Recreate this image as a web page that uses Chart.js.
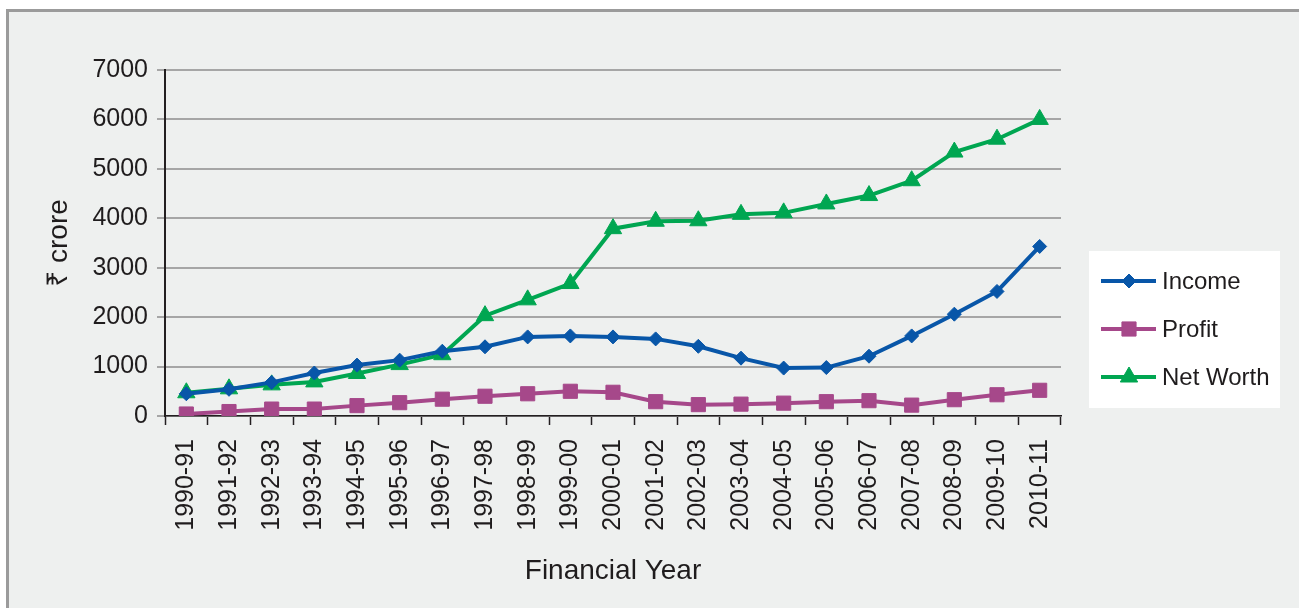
<!DOCTYPE html>
<html>
<head>
<meta charset="utf-8">
<script src="https://cdn.jsdelivr.net/npm/chart.js@4.4.1/dist/chart.umd.min.js"></script>
<style>
    html, body { margin: 0; padding: 0; background: #ffffff; }
    #frame {
        position: absolute; left: 6px; top: 9px; width: 1400px; height: 700px;
        background: #eef0ef; border-top: 3px solid #9b9b9b; border-left: 3px solid #9b9b9b;
    }
    #wrap { position: absolute; left: 0; top: 0; width: 1299px; height: 608px; }
</style>
</head>
<body>
<div id="frame"></div>
<div id="wrap"><canvas id="finChart" width="1299" height="608"></canvas></div>
<script>
// Financial performance, 1990-91 to 2010-11 (values in ₹ crore)
const years = ['1990-91', '1991-92', '1992-93', '1993-94', '1994-95', '1995-96', '1996-97',
    '1997-98', '1998-99', '1999-00', '2000-01', '2001-02', '2002-03', '2003-04', '2004-05',
    '2005-06', '2006-07', '2007-08', '2008-09', '2009-10', '2010-11'];
const income = [450, 540, 680, 870, 1030, 1130, 1310, 1400, 1600, 1620, 1600, 1560, 1410, 1170, 970,
    980, 1210, 1620, 2060, 2520, 3430];
const profit = [40, 90, 140, 140, 210, 270, 340, 400, 450, 500, 480, 290, 230, 240, 260,
    290, 310, 220, 330, 430, 520];
const netWorth = [470, 550, 630, 690, 860, 1040, 1240, 2030, 2350, 2680, 3790, 3940, 3950, 4080, 4110,
    4290, 4460, 4760, 5340, 5600, 6000];
const yTicks = [0, 1000, 2000, 3000, 4000, 5000, 6000, 7000];

const FONT = '"Liberation Sans", Arial, "Noto Sans", sans-serif';
const TEXT = '#1f1c1d';

// legend in a white box on the right, line + marker like the original
const boxLegend = {
    id: 'boxLegend',
    afterDraw(chart) {
        const ctx = chart.ctx;
        const x0 = 1089, y0 = 251, w = 191, h = 157;
        ctx.save();
        ctx.fillStyle = '#ffffff';
        ctx.fillRect(x0, y0, w, h);
        chart.data.datasets.forEach((ds, i) => {
            const y = 281 + i * 48;
            ctx.strokeStyle = ds.borderColor;
            ctx.lineWidth = 4;
            ctx.beginPath();
            ctx.moveTo(1101, y);
            ctx.lineTo(1156, y);
            ctx.stroke();
            ctx.fillStyle = ds.backgroundColor;
            ctx.strokeStyle = ds.borderColor;
            ctx.lineWidth = 1;
            Chart.helpers.drawPoint(ctx, {
                pointStyle: ds.pointStyle, radius: ds.pointRadius, rotation: 0, borderWidth: 1
            }, 1129, y);
            ctx.fillStyle = TEXT;
            ctx.font = '24px ' + FONT;
            ctx.textBaseline = 'middle';
            ctx.fillText(ds.label, 1162, y + 1);
        });
        ctx.restore();
    }
};

function pointOpts(style, r) {
    return { pointStyle: style, pointRadius: r, pointHoverRadius: r, pointBorderWidth: 1 };
}

const ctx = document.getElementById('finChart').getContext('2d');
new Chart(ctx, {
    type: 'line',
    data: {
        labels: years,
        datasets: [
            Object.assign({ label: 'Income', data: income, borderColor: '#0856a8', backgroundColor: '#0856a8',
                borderWidth: 4 }, pointOpts('rectRot', 7)),
            Object.assign({ label: 'Profit', data: profit, borderColor: '#a6488a', backgroundColor: '#a6488a',
                borderWidth: 4 }, pointOpts('rect', 10)),
            Object.assign({ label: 'Net Worth', data: netWorth, borderColor: '#00a651', backgroundColor: '#00a651',
                borderWidth: 4 }, pointOpts('triangle', 10))
        ]
    },
    options: {
        responsive: false,
        animation: false,
        layout: { padding: { left: 38, right: 238, top: 70, bottom: 16 } },
        plugins: {
            legend: { display: false },
            tooltip: { enabled: false }
        },
        scales: {
            x: {
                offset: true,
                afterFit: (s) => { s.height = 176; },
                grid: { offset: true, drawOnChartArea: false, tickLength: 9, color: '#231f20', tickWidth: 1.5 },
                border: { color: '#231f20', width: 1.5 },
                ticks: { color: TEXT, font: { family: FONT, size: 25 }, minRotation: 90, maxRotation: 90,
                    autoSkip: false, padding: 14 },
                title: { display: true, text: 'Financial Year', color: TEXT, font: { family: FONT, size: 28 } }
            },
            y: {
                min: 0, max: 7000,
                afterFit: (s) => { s.width = 127; },
                afterBuildTicks: (s) => { s.ticks = yTicks.map(v => ({ value: v })); },
                grid: { color: '#a6a6a6', lineWidth: 2, tickLength: 8, tickColor: '#a6a6a6' },
                border: { color: '#231f20', width: 2 },
                ticks: { color: TEXT, font: { family: FONT, size: 25 }, padding: 9, callback: (v) => String(v) },
                title: { display: true, text: '₹ crore', color: TEXT, font: { family: FONT, size: 28 } }
            }
        }
    },
    plugins: [boxLegend]
});
</script>
</body>
</html>
